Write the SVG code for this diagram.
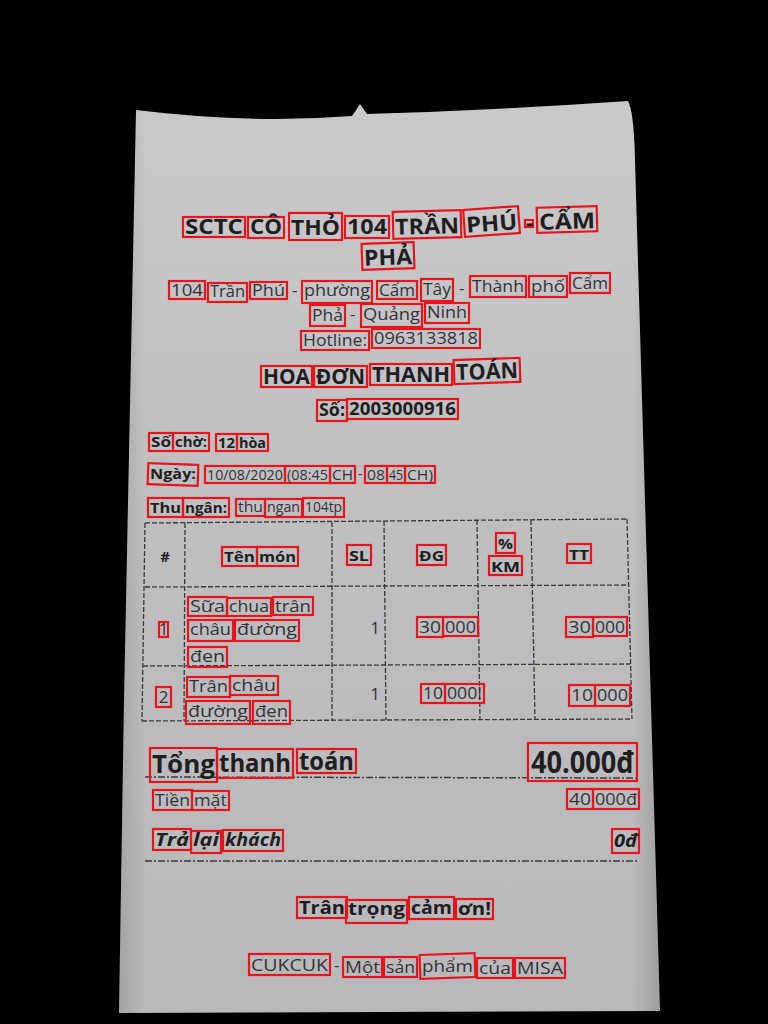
<svg xmlns="http://www.w3.org/2000/svg" width="768" height="1024" viewBox="0 0 768 1024">
<defs>
<linearGradient id="paper" x1="0" y1="0" x2="0" y2="1">
<stop offset="0" stop-color="#c9c9cb"/>
<stop offset="0.5" stop-color="#bebec1"/>
<stop offset="1" stop-color="#b9b9bc"/>
</linearGradient>
<linearGradient id="edge" x1="0" y1="0" x2="1" y2="0">
<stop offset="0" stop-color="#000" stop-opacity="0.12"/>
<stop offset="0.05" stop-color="#000" stop-opacity="0"/>
<stop offset="0.95" stop-color="#000" stop-opacity="0"/>
<stop offset="1" stop-color="#000" stop-opacity="0.15"/>
</linearGradient>
</defs>
<style>
.b{fill:none;stroke:#e8141c;stroke-width:2.2}
.t{font-family:"Open Sans","Noto Sans","DejaVu Sans",sans-serif;fill:#333336}
.bd{font-weight:bold;fill:#1f1f22}
.bi{font-weight:bold;font-style:italic;fill:#1f1f22}
.f22{font-size:22px}.f17{font-size:17px}.f15{font-size:15px}.f14{font-size:14px}
.f18{font-size:18px}.f25{font-size:25px}.f30{font-size:30px}
.ln{stroke:#3a3a3d;stroke-width:1.3;stroke-dasharray:5 2;fill:none}
.rl{stroke:#3a3a3d;stroke-width:1.5;stroke-dasharray:7 2 2 2;fill:none}
</style>
<rect width="768" height="1024" fill="#000"/>
<g id="paper-sheet">
<path d="M136,110 Q250,124 352,116 L360,104 L367,114 Q500,110 628,101 Q634,112 635,160 L660,1011 L119,1013 L124,700 Z" fill="url(#paper)"/>
<path d="M136,110 Q250,124 352,116 L360,104 L367,114 Q500,110 628,101 Q634,112 635,160 L660,1011 L119,1013 L124,700 Z" fill="url(#edge)"/>
</g>

<g id="connectors">
<path class="ln" d="M145,523 L627,519"/>
<path class="ln" d="M145,587 L629,585"/>
<path class="ln" d="M143,666 L630,664"/>
<path class="ln" d="M142,721 L632,719"/>
<path class="ln" d="M145,523 L142,721"/>
<path class="ln" d="M185,523 L184,721"/>
<path class="ln" d="M332,522 L332,720"/>
<path class="ln" d="M384,521 L386,720"/>
<path class="ln" d="M477,520 L480,720"/>
<path class="ln" d="M531,520 L535,720"/>
<path class="ln" d="M627,519 L632,719"/>
<path class="rl" d="M145,777 L637,778"/>
<path class="rl" d="M145,861 L637,861"/>
</g>

<g id="title">
<rect class="b" x="183" y="217" width="62" height="20"/><text class="t bd f22" x="185" y="234" textLength="58" lengthAdjust="spacingAndGlyphs">SCTC</text>
<rect class="b" x="248" y="217" width="36" height="21"/><text class="t bd f22" x="250" y="234" textLength="32" lengthAdjust="spacingAndGlyphs">CÔ</text>
<rect class="b" x="289" y="213" width="53" height="27"/><text class="t bd f22" x="291" y="235" textLength="49" lengthAdjust="spacingAndGlyphs">THỎ</text>
<rect class="b" x="345" y="216" width="44" height="22"/><text class="t bd f22" x="347" y="234" textLength="40" lengthAdjust="spacingAndGlyphs">104</text>
<rect class="b" x="393" y="211" width="68" height="27" transform="rotate(-1.5 427 224)"/><text class="t bd f22" x="395" y="234" textLength="64" lengthAdjust="spacingAndGlyphs" transform="rotate(-1.5 427 224)">TRẦN</text>
<rect class="b" x="464" y="208" width="55" height="27" transform="rotate(-4 491 221)"/><text class="t bd f22" x="466" y="231" textLength="51" lengthAdjust="spacingAndGlyphs" transform="rotate(-4 491 221)">PHÚ</text>
<rect class="b" x="525" y="220" width="8" height="7"/><text class="t bd f22" x="526" y="230">-</text>
<rect class="b" x="537" y="207" width="60" height="25" transform="rotate(-1.5 567 220)"/><text class="t bd f22" x="539" y="229" textLength="56" lengthAdjust="spacingAndGlyphs" transform="rotate(-1.5 567 220)">CẨM</text>
<rect class="b" x="362" y="243" width="52" height="26" transform="rotate(-2 388 256)"/><text class="t bd f22" x="364" y="265" textLength="48" lengthAdjust="spacingAndGlyphs" transform="rotate(-2 388 256)">PHẢ</text>
</g>

<g id="address">
<rect class="b" x="169" y="281" width="36" height="18"/><text class="t f17" x="171" y="296" textLength="32" lengthAdjust="spacingAndGlyphs">104</text>
<rect class="b" x="208" y="283" width="39" height="19"/><text class="t f17" x="210" y="297" textLength="35" lengthAdjust="spacingAndGlyphs">Trần</text>
<rect class="b" x="250" y="282" width="37" height="17"/><text class="t f17" x="252" y="296" textLength="33" lengthAdjust="spacingAndGlyphs">Phú</text>
<text class="t f17" x="292" y="296">-</text>
<rect class="b" x="302" y="281" width="70" height="22"/><text class="t f17" x="304" y="296" textLength="66" lengthAdjust="spacingAndGlyphs">phường</text>
<rect class="b" x="377" y="281" width="40" height="18"/><text class="t f17" x="379" y="296" textLength="36" lengthAdjust="spacingAndGlyphs">Cẩm</text>
<rect class="b" x="421" y="279" width="32" height="22"/><text class="t f17" x="423" y="295" textLength="28" lengthAdjust="spacingAndGlyphs">Tây</text>
<text class="t f17" x="459" y="294">-</text>
<rect class="b" x="470" y="276" width="56" height="21"/><text class="t f17" x="472" y="292" textLength="52" lengthAdjust="spacingAndGlyphs">Thành</text>
<rect class="b" x="529" y="276" width="38" height="21"/><text class="t f17" x="531" y="292" textLength="34" lengthAdjust="spacingAndGlyphs">phố</text>
<rect class="b" x="570" y="273" width="40" height="20"/><text class="t f17" x="572" y="289" textLength="36" lengthAdjust="spacingAndGlyphs">Cẩm</text>
<rect class="b" x="310" y="305" width="35" height="21"/><text class="t f17" x="312" y="321" textLength="31" lengthAdjust="spacingAndGlyphs">Phả</text>
<text class="t f17" x="350" y="320">-</text>
<rect class="b" x="361" y="304" width="61" height="23"/><text class="t f17" x="363" y="320" textLength="57" lengthAdjust="spacingAndGlyphs">Quảng</text>
<rect class="b" x="425" y="303" width="44" height="20"/><text class="t f17" x="427" y="318" textLength="40" lengthAdjust="spacingAndGlyphs">Ninh</text>
<rect class="b" x="301" y="331" width="68" height="19"/><text class="t f17" x="303" y="346" textLength="64" lengthAdjust="spacingAndGlyphs">Hotline:</text>
<rect class="b" x="372" y="329" width="108" height="19"/><text class="t f17" x="374" y="344" textLength="104" lengthAdjust="spacingAndGlyphs">0963133818</text>
</g>

<g id="heading">
<rect class="b" x="261" y="366" width="51" height="21"/><text class="t bd f22" x="263" y="384" textLength="47" lengthAdjust="spacingAndGlyphs">HOA</text>
<rect class="b" x="314" y="366" width="53" height="21"/><text class="t bd f22" x="316" y="384" textLength="49" lengthAdjust="spacingAndGlyphs">ĐƠN</text>
<rect class="b" x="370" y="364" width="82" height="21"/><text class="t bd f22" x="372" y="382" textLength="78" lengthAdjust="spacingAndGlyphs">THANH</text>
<rect class="b" x="454" y="359" width="66" height="24" transform="rotate(-2 487 371)"/><text class="t bd f22" x="456" y="379" textLength="62" lengthAdjust="spacingAndGlyphs" transform="rotate(-2 487 371)">TOÁN</text>
<rect class="b" x="317" y="400" width="30" height="21"/><text class="t bd f17" x="319" y="416" textLength="26" lengthAdjust="spacingAndGlyphs">Số:</text>
<rect class="b" x="347" y="399" width="111" height="20"/><text class="t bd f17" x="349" y="415" textLength="107" lengthAdjust="spacingAndGlyphs">2003000916</text>
</g>

<g id="info">
<rect class="b" x="149" y="433" width="24" height="18"/><text class="t bd f14" x="151" y="447" textLength="20" lengthAdjust="spacingAndGlyphs">Số</text>
<rect class="b" x="173" y="433" width="36" height="18"/><text class="t bd f14" x="175" y="447" textLength="32" lengthAdjust="spacingAndGlyphs">chờ:</text>
<rect class="b" x="216" y="434" width="21" height="17"/><text class="t bd f14" x="218" y="448" textLength="17" lengthAdjust="spacingAndGlyphs">12</text>
<rect class="b" x="237" y="434" width="31" height="17"/><text class="t bd f14" x="239" y="448" textLength="27" lengthAdjust="spacingAndGlyphs">hòa</text>
<rect class="b" x="148" y="464" width="50" height="21" transform="rotate(2 173 474)"/><text class="t bd f14" x="150" y="479" textLength="46" lengthAdjust="spacingAndGlyphs">Ngày:</text>
<rect class="b" x="205" y="466" width="80" height="17"/><text class="t f14" x="207" y="480" textLength="76" lengthAdjust="spacingAndGlyphs">10/08/2020</text>
<rect class="b" x="285" y="466" width="45" height="17"/><text class="t f14" x="287" y="480" textLength="41" lengthAdjust="spacingAndGlyphs">(08:45</text>
<rect class="b" x="330" y="466" width="25" height="17"/><text class="t f14" x="332" y="480" textLength="21" lengthAdjust="spacingAndGlyphs">CH</text>
<text class="t f14" x="358" y="479">-</text>
<rect class="b" x="365" y="466" width="22" height="17"/><text class="t f14" x="367" y="480" textLength="18" lengthAdjust="spacingAndGlyphs">08</text>
<rect class="b" x="387" y="466" width="18" height="17"/><text class="t f14" x="389" y="480" textLength="14" lengthAdjust="spacingAndGlyphs">45</text>
<rect class="b" x="405" y="466" width="30" height="17"/><text class="t f14" x="407" y="480" textLength="26" lengthAdjust="spacingAndGlyphs">CH)</text>
<rect class="b" x="148" y="498" width="35" height="19"/><text class="t bd f14" x="150" y="513" textLength="31" lengthAdjust="spacingAndGlyphs">Thu</text>
<rect class="b" x="183" y="498" width="46" height="19"/><text class="t bd f14" x="185" y="513" textLength="42" lengthAdjust="spacingAndGlyphs">ngân:</text>
<rect class="b" x="236" y="499" width="29" height="17"/><text class="t f14" x="238" y="512" textLength="25" lengthAdjust="spacingAndGlyphs">thu</text>
<rect class="b" x="265" y="499" width="37" height="18"/><text class="t f14" x="267" y="512" textLength="33" lengthAdjust="spacingAndGlyphs">ngan</text>
<rect class="b" x="303" y="498" width="41" height="19"/><text class="t f14" x="305" y="512" textLength="37" lengthAdjust="spacingAndGlyphs">104tp</text>
</g>

<g id="table-header">
<text class="t bd f15" x="165" y="562" text-anchor="middle">#</text>
<rect class="b" x="222" y="547" width="35" height="19"/><text class="t bd f15" x="224" y="562" textLength="31" lengthAdjust="spacingAndGlyphs">Tên</text>
<rect class="b" x="257" y="547" width="41" height="19"/><text class="t bd f15" x="259" y="562" textLength="37" lengthAdjust="spacingAndGlyphs">món</text>
<rect class="b" x="347" y="545" width="24" height="20"/><text class="t bd f15" x="349" y="561" textLength="20" lengthAdjust="spacingAndGlyphs">SL</text>
<rect class="b" x="417" y="545" width="29" height="20"/><text class="t bd f15" x="419" y="561" textLength="25" lengthAdjust="spacingAndGlyphs">ĐG</text>
<rect class="b" x="496" y="533" width="19" height="20"/><text class="t bd f15" x="498" y="549" textLength="15" lengthAdjust="spacingAndGlyphs">%</text>
<rect class="b" x="489" y="556" width="33" height="19"/><text class="t bd f15" x="491" y="572" textLength="29" lengthAdjust="spacingAndGlyphs">KM</text>
<rect class="b" x="567" y="544" width="24" height="19"/><text class="t bd f15" x="569" y="560" textLength="20" lengthAdjust="spacingAndGlyphs">TT</text>
</g>

<g id="row-1">
<rect class="b" x="159" y="622" width="9" height="15"/><text class="t f17" x="163.5" y="635" text-anchor="middle">1</text>
<rect class="b" x="188" y="597" width="39" height="19"/><text class="t f17" x="190" y="612" textLength="35" lengthAdjust="spacingAndGlyphs">Sữa</text>
<rect class="b" x="227" y="598" width="44" height="18"/><text class="t f17" x="229" y="612" textLength="40" lengthAdjust="spacingAndGlyphs">chua</text>
<rect class="b" x="273" y="597" width="40" height="18"/><text class="t f17" x="275" y="612" textLength="36" lengthAdjust="spacingAndGlyphs">trân</text>
<rect class="b" x="188" y="620" width="45" height="21"/><text class="t f17" x="190" y="635" textLength="41" lengthAdjust="spacingAndGlyphs">châu</text>
<rect class="b" x="235" y="620" width="64" height="21"/><text class="t f17" x="237" y="635" textLength="60" lengthAdjust="spacingAndGlyphs">đường</text>
<rect class="b" x="188" y="647" width="39" height="20"/><text class="t f17" x="190" y="662" textLength="35" lengthAdjust="spacingAndGlyphs">đen</text>
<text class="t f17" x="380" y="634" text-anchor="end">1</text>
<rect class="b" x="417" y="617" width="26" height="20"/><text class="t f17" x="419" y="633" textLength="22" lengthAdjust="spacingAndGlyphs">30</text>
<rect class="b" x="443" y="617" width="35" height="19"/><text class="t f17" x="445" y="633" textLength="31" lengthAdjust="spacingAndGlyphs">000</text>
<rect class="b" x="566" y="617" width="27" height="20"/><text class="t f17" x="568" y="633" textLength="23" lengthAdjust="spacingAndGlyphs">30</text>
<rect class="b" x="593" y="617" width="34" height="19"/><text class="t f17" x="595" y="633" textLength="30" lengthAdjust="spacingAndGlyphs">000</text>
</g>

<g id="row-2">
<rect class="b" x="156" y="687" width="15" height="20"/><text class="t f17" x="163.5" y="703" text-anchor="middle">2</text>
<rect class="b" x="187" y="677" width="43" height="20"/><text class="t f17" x="189" y="692" textLength="39" lengthAdjust="spacingAndGlyphs">Trân</text>
<rect class="b" x="230" y="676" width="48" height="19"/><text class="t f17" x="232" y="691" textLength="44" lengthAdjust="spacingAndGlyphs">châu</text>
<rect class="b" x="186" y="701" width="64" height="23"/><text class="t f17" x="188" y="717" textLength="60" lengthAdjust="spacingAndGlyphs">đường</text>
<rect class="b" x="253" y="701" width="37" height="23"/><text class="t f17" x="255" y="717" textLength="33" lengthAdjust="spacingAndGlyphs">đen</text>
<text class="t f17" x="380" y="700" text-anchor="end">1</text>
<rect class="b" x="421" y="684" width="24" height="19"/><text class="t f17" x="423" y="699" textLength="20" lengthAdjust="spacingAndGlyphs">10</text>
<rect class="b" x="445" y="684" width="39" height="19"/><text class="t f17" x="447" y="699" textLength="35" lengthAdjust="spacingAndGlyphs">000!</text>
<rect class="b" x="569" y="685" width="26" height="21"/><text class="t f17" x="571" y="701" textLength="22" lengthAdjust="spacingAndGlyphs">10</text>
<rect class="b" x="595" y="685" width="35" height="21"/><text class="t f17" x="597" y="701" textLength="31" lengthAdjust="spacingAndGlyphs">000</text>
</g>

<g id="totals">
<rect class="b" x="150" y="748" width="67" height="34"/><text class="t bd f25" x="152" y="773" textLength="63" lengthAdjust="spacingAndGlyphs">Tổng</text>
<rect class="b" x="217" y="749" width="76" height="29"/><text class="t bd f25" x="219" y="772" textLength="72" lengthAdjust="spacingAndGlyphs">thanh</text>
<rect class="b" x="297" y="749" width="59" height="24"/><text class="t bd f25" x="299" y="770" textLength="55" lengthAdjust="spacingAndGlyphs">toán</text>
<rect class="b" x="528" y="743" width="109" height="38"/><text class="t bd f30" x="531" y="773" textLength="103" lengthAdjust="spacingAndGlyphs">40.000đ</text>
<rect class="b" x="153" y="790" width="39" height="20"/><text class="t f17" x="155" y="806" textLength="35" lengthAdjust="spacingAndGlyphs">Tiền</text>
<rect class="b" x="192" y="791" width="37" height="19"/><text class="t f17" x="194" y="806" textLength="33" lengthAdjust="spacingAndGlyphs">mặt</text>
<rect class="b" x="567" y="789" width="26" height="20"/><text class="t f17" x="569" y="805" textLength="22" lengthAdjust="spacingAndGlyphs">40</text>
<rect class="b" x="593" y="789" width="46" height="20"/><text class="t f17" x="595" y="805" textLength="42" lengthAdjust="spacingAndGlyphs">000đ</text>
<rect class="b" x="153" y="829" width="38" height="21"/><text class="t bi f18" x="155" y="846" textLength="34" lengthAdjust="spacingAndGlyphs">Trả</text>
<rect class="b" x="191" y="831" width="30" height="22"/><text class="t bi f18" x="193" y="846" textLength="26" lengthAdjust="spacingAndGlyphs">lại</text>
<rect class="b" x="223" y="830" width="60" height="21"/><text class="t bi f18" x="225" y="846" textLength="56" lengthAdjust="spacingAndGlyphs">khách</text>
<rect class="b" x="612" y="829" width="27" height="24"/><text class="t bi f18" x="614" y="847" textLength="23" lengthAdjust="spacingAndGlyphs">0đ</text>
</g>

<g id="footer">
<rect class="b" x="297" y="897" width="50" height="21"/><text class="t bd f18" x="299" y="914" textLength="46" lengthAdjust="spacingAndGlyphs">Trân</text>
<rect class="b" x="346" y="900" width="61" height="23"/><text class="t bd f18" x="348" y="915" textLength="57" lengthAdjust="spacingAndGlyphs">trọng</text>
<rect class="b" x="409" y="897" width="45" height="22"/><text class="t bd f18" x="411" y="914" textLength="41" lengthAdjust="spacingAndGlyphs">cảm</text>
<rect class="b" x="456" y="899" width="37" height="20"/><text class="t bd f18" x="458" y="915" textLength="33" lengthAdjust="spacingAndGlyphs">ơn!</text>
<rect class="b" x="249" y="954" width="81" height="21"/><text class="t f17" x="251" y="971" textLength="77" lengthAdjust="spacingAndGlyphs">CUKCUK</text>
<text class="t f17" x="334" y="971">-</text>
<rect class="b" x="343" y="957" width="39" height="20"/><text class="t f17" x="345" y="973" textLength="35" lengthAdjust="spacingAndGlyphs">Một</text>
<rect class="b" x="384" y="957" width="33" height="20"/><text class="t f17" x="386" y="973" textLength="29" lengthAdjust="spacingAndGlyphs">sản</text>
<rect class="b" x="420" y="954" width="55" height="24" transform="rotate(-2 447 966)"/><text class="t f17" x="422" y="972" textLength="51" lengthAdjust="spacingAndGlyphs">phẩm</text>
<rect class="b" x="477" y="958" width="36" height="20"/><text class="t f17" x="479" y="974" textLength="32" lengthAdjust="spacingAndGlyphs">của</text>
<rect class="b" x="515" y="958" width="50" height="20"/><text class="t f17" x="517" y="974" textLength="46" lengthAdjust="spacingAndGlyphs">MISA</text>
</g>
</svg>
